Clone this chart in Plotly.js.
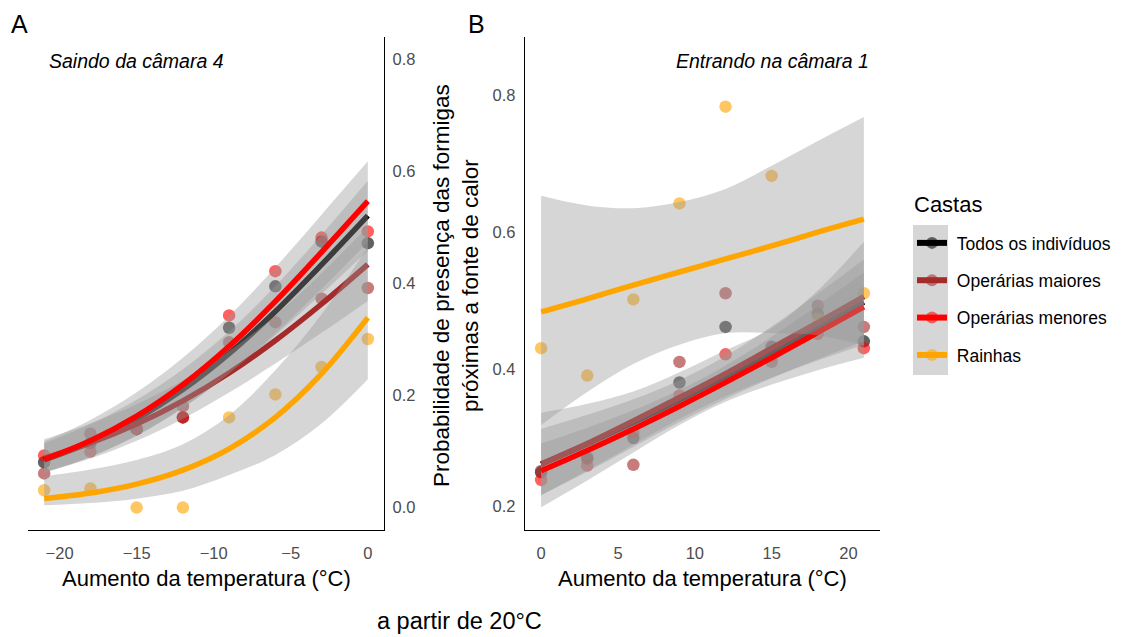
<!DOCTYPE html>
<html>
<head>
<meta charset="utf-8">
<script src="https://cdn.plot.ly/plotly-3.0.1.min.js"></script>
<style>html,body{margin:0;padding:0;background:#fff;}#chart{width:1122px;height:637px;}</style>
</head>
<body>
<div id="chart"></div>
<script>
// ---------- DATA ----------
const castas = ['Todos os indivíduos', 'Operárias maiores', 'Operárias menores', 'Rainhas'];
const cores = ['#000000', '#A52A2A', '#FF0000', '#FFA500'];
const legendaTitulo = 'Castas';

// Panel A: Saindo da câmara 4
const xA = [-21, -18, -15, -12, -9, -6, -3, 0];
const ptsA_todos   = [0.081, 0.115, 0.140, 0.161, 0.321, 0.395, 0.475, 0.472];
const ptsA_maiores = [0.061, 0.132, 0.141, 0.181, 0.295, 0.331, 0.373, 0.392];
const ptsA_menores = [0.093, 0.100, 0.140, 0.161, 0.343, 0.422, 0.482, 0.493];
const ptsA_rainhas = [0.031, 0.034, 0.000, 0.000, 0.161, 0.202, 0.251, 0.301];

const fitA_todos   = [0.0851, 0.1167, 0.1581, 0.2106, 0.2749, 0.3501, 0.4336, 0.5210];
const loA_todos    = [0.0627, 0.0907, 0.1288, 0.1783, 0.2386, 0.3074, 0.3815, 0.4581];
const hiA_todos    = [0.1145, 0.1490, 0.1926, 0.2470, 0.3144, 0.3954, 0.4871, 0.5832];
const fitA_maiores = [0.0884, 0.1153, 0.1490, 0.1905, 0.2402, 0.2982, 0.3634, 0.4341];
const loA_maiores  = [0.0634, 0.0876, 0.1193, 0.1588, 0.2054, 0.2571, 0.3119, 0.3689];
const hiA_maiores  = [0.1220, 0.1502, 0.1846, 0.2267, 0.2789, 0.3428, 0.4183, 0.5018];
const fitA_menores = [0.0860, 0.1193, 0.1632, 0.2193, 0.2879, 0.3680, 0.4560, 0.5469];
const loA_menores  = [0.0621, 0.0900, 0.1281, 0.1777, 0.2392, 0.3111, 0.3907, 0.4738];
const hiA_menores  = [0.1179, 0.1564, 0.2057, 0.2674, 0.3421, 0.4287, 0.5229, 0.6180];
const fitA_rainhas = [0.016, 0.026, 0.042, 0.067, 0.105, 0.161, 0.239, 0.339];
const loA_rainhas  = [0.004, 0.008, 0.016, 0.030, 0.058, 0.094, 0.150, 0.229];
const hiA_rainhas  = [0.056, 0.068, 0.085, 0.113, 0.165, 0.245, 0.345, 0.465];

// Panel B: Entrando na câmara 1
const xB = [0, 3, 6, 9, 12, 15, 18, 21];
const ptsB_todos   = [0.250, 0.270, 0.300, 0.381, 0.462, 0.433, 0.481, 0.441];
const ptsB_maiores = [0.252, 0.272, 0.261, 0.411, 0.511, 0.411, 0.493, 0.462];
const ptsB_menores = [0.239, 0.260, 0.308, 0.362, 0.422, 0.420, 0.452, 0.431];
const ptsB_rainhas = [0.431, 0.391, 0.502, 0.642, 0.783, 0.682, 0.474, 0.511];

const fitB_todos   = [0.2620, 0.2915, 0.3226, 0.3555, 0.3898, 0.4251, 0.4613, 0.4980];
const loB_todos    = [0.2167, 0.2526, 0.2903, 0.3276, 0.3608, 0.3884, 0.4129, 0.4359];
const hiB_todos    = [0.3133, 0.3338, 0.3566, 0.3844, 0.4197, 0.4626, 0.5105, 0.5602];
const fitB_maiores = [0.262, 0.292, 0.325, 0.359, 0.394, 0.431, 0.468, 0.506];
const loB_maiores  = [0.199, 0.238, 0.279, 0.319, 0.353, 0.378, 0.399, 0.417];
const hiB_maiores  = [0.337, 0.350, 0.368, 0.396, 0.428, 0.460, 0.515, 0.586];
const fitB_menores = [0.2525, 0.2820, 0.3133, 0.3464, 0.3811, 0.4170, 0.4539, 0.4913];
const loB_menores  = [0.2167, 0.2509, 0.2871, 0.3234, 0.3571, 0.3871, 0.4148, 0.4415];
const hiB_menores  = [0.2921, 0.3152, 0.3406, 0.3700, 0.4056, 0.4476, 0.4935, 0.5412];
const fitB_rainhas = [0.484, 0.503, 0.523, 0.542, 0.561, 0.580, 0.600, 0.619];
const loB_rainhas  = [0.319, 0.367, 0.408, 0.436, 0.453, 0.453, 0.450, 0.435];
const hiB_rainhas  = [0.653, 0.639, 0.635, 0.644, 0.663, 0.697, 0.733, 0.768];

const ticksA_x = [-20, -15, -10, -5, 0];
const ticksA_y = [0.0, 0.2, 0.4, 0.6, 0.8];
const ticksB_x = [0, 5, 10, 15, 20];
const ticksB_y = [0.2, 0.4, 0.6, 0.8];

// ---------- BUILD ----------
const FONT = 'Liberation Sans, Arial, sans-serif';
const BAND = 'rgba(153,153,153,0.4)';
const traces = [];

function panel(xs, pts, fits, los, his, xa, ya) {
  pts.forEach((p, i) => traces.push({
    type: 'scatter', mode: 'markers', x: xs, y: p, xaxis: xa, yaxis: ya,
    marker: {color: cores[i], size: 12.5, opacity: 0.62, line: {width: 0}},
    showlegend: false, hoverinfo: 'skip'
  }));
  fits.forEach((f, i) => {
    traces.push({type: 'scatter', mode: 'lines', x: xs, y: los[i], xaxis: xa, yaxis: ya,
      line: {width: 0, shape: 'spline', color: 'rgba(0,0,0,0)'}, showlegend: false, hoverinfo: 'skip'});
    traces.push({type: 'scatter', mode: 'lines', x: xs, y: his[i], xaxis: xa, yaxis: ya,
      line: {width: 0, shape: 'spline', color: 'rgba(0,0,0,0)'}, fill: 'tonexty', fillcolor: BAND,
      showlegend: false, hoverinfo: 'skip'});
    traces.push({type: 'scatter', mode: 'lines', x: xs, y: f, xaxis: xa, yaxis: ya,
      line: {width: 5.5, shape: 'spline', color: cores[i]}, showlegend: false, hoverinfo: 'skip'});
  });
}

panel(xA, [ptsA_todos, ptsA_maiores, ptsA_menores, ptsA_rainhas],
  [fitA_todos, fitA_maiores, fitA_menores, fitA_rainhas],
  [loA_todos, loA_maiores, loA_menores, loA_rainhas],
  [hiA_todos, hiA_maiores, hiA_menores, hiA_rainhas], 'x', 'y');
panel(xB, [ptsB_todos, ptsB_maiores, ptsB_menores, ptsB_rainhas],
  [fitB_todos, fitB_maiores, fitB_menores, fitB_rainhas],
  [loB_todos, loB_maiores, loB_menores, loB_rainhas],
  [hiB_todos, hiB_maiores, hiB_menores, hiB_rainhas], 'x2', 'y2');

// legend entries
castas.forEach((c, i) => traces.push({
  type: 'scatter', mode: 'lines+markers', x: [null], y: [null], xaxis: 'x', yaxis: 'y',
  name: '\u00a0' + c, legendgroup: 'g' + i,
  line: {color: cores[i], width: 6},
  marker: {color: cores[i], size: 12, opacity: 0.55},
  hoverinfo: 'skip'
}));

const W = 1122, H = 637;
const px = v => v / W;
const py = v => 1 - v / H;

const axisCommon = {
  showline: true, linecolor: '#000', linewidth: 1.2, showgrid: false, zeroline: false,
  ticks: '', tickfont: {family: FONT, size: 16.5, color: '#4d4d4d'}, fixedrange: true
};

const layout = {
  width: W, height: H,
  margin: {l: 0, r: 0, t: 0, b: 0},
  paper_bgcolor: '#fff', plot_bgcolor: '#fff',
  font: {family: FONT, color: '#000'},
  showlegend: true,
  xaxis: Object.assign({}, axisCommon, {domain: [px(28), px(384)], range: [-22.05, 1.05], anchor: 'y',
    tickvals: ticksA_x, ticklabelstandoff: 8}),
  yaxis: Object.assign({}, axisCommon, {domain: [py(530), py(37)], range: [-0.04, 0.84], anchor: 'x',
    side: 'right', tickvals: ticksA_y, tickformat: '.1f', ticklabelstandoff: 4}),
  xaxis2: Object.assign({}, axisCommon, {domain: [px(525), px(880)], range: [-1.05, 22.05], anchor: 'y2',
    tickvals: ticksB_x, ticklabelstandoff: 8}),
  yaxis2: Object.assign({}, axisCommon, {domain: [py(530), py(37)], range: [0.166, 0.8845], anchor: 'x2',
    tickvals: ticksB_y, tickformat: '.1f', ticklabelstandoff: 5}),
  legend: {
    x: px(912), y: py(225), xanchor: 'left', yanchor: 'top',
    bgcolor: 'rgba(0,0,0,0)', borderwidth: 0,
    traceorder: 'grouped', tracegroupgap: 11.6,
    font: {family: FONT, size: 17.5, color: '#000'}
  },
  shapes: [{type: 'rect', xref: 'paper', yref: 'paper', x0: px(913), x1: px(948), y0: py(375), y1: py(225),
    fillcolor: '#d6d6d6', line: {width: 0}, layer: 'below'}],
  annotations: [
    {text: 'A', x: px(19.5), y: py(24), xref: 'paper', yref: 'paper', showarrow: false,
      font: {size: 25, family: FONT}, xanchor: 'center', yanchor: 'middle'},
    {text: 'B', x: px(476.5), y: py(24), xref: 'paper', yref: 'paper', showarrow: false,
      font: {size: 25, family: FONT}, xanchor: 'center', yanchor: 'middle'},
    {text: '<i>Saindo da câmara 4</i>', x: px(47), y: py(61), xref: 'paper', yref: 'paper', showarrow: false,
      font: {size: 19.5, family: FONT}, xanchor: 'left', yanchor: 'middle'},
    {text: '<i>Entrando na câmara 1</i>', x: px(871), y: py(61), xref: 'paper', yref: 'paper', showarrow: false,
      font: {size: 19.5, family: FONT}, xanchor: 'right', yanchor: 'middle'},
    {text: 'Aumento da temperatura (°C)', x: px(206.5), y: py(578), xref: 'paper', yref: 'paper', showarrow: false,
      font: {size: 22, family: FONT}, xanchor: 'center', yanchor: 'middle'},
    {text: 'Aumento da temperatura (°C)', x: px(702.5), y: py(578), xref: 'paper', yref: 'paper', showarrow: false,
      font: {size: 22, family: FONT}, xanchor: 'center', yanchor: 'middle'},
    {text: 'Probabilidade de presença das formigas<br>próximas a fonte de calor', x: px(456), y: py(286),
      xref: 'paper', yref: 'paper', showarrow: false, textangle: -90,
      font: {size: 22.5, family: FONT}, xanchor: 'center', yanchor: 'middle'},
    {text: 'a partir de 20°C', x: px(459), y: py(621), xref: 'paper', yref: 'paper', showarrow: false,
      font: {size: 23.5, family: FONT}, xanchor: 'center', yanchor: 'middle'},
    {text: legendaTitulo, x: px(912), y: py(204), xref: 'paper', yref: 'paper', showarrow: false,
      font: {size: 22, family: FONT}, xanchor: 'left', yanchor: 'middle'}
  ]
};

Plotly.newPlot('chart', traces, layout, {displayModeBar: false, staticPlot: true});
</script>
</body>
</html>
